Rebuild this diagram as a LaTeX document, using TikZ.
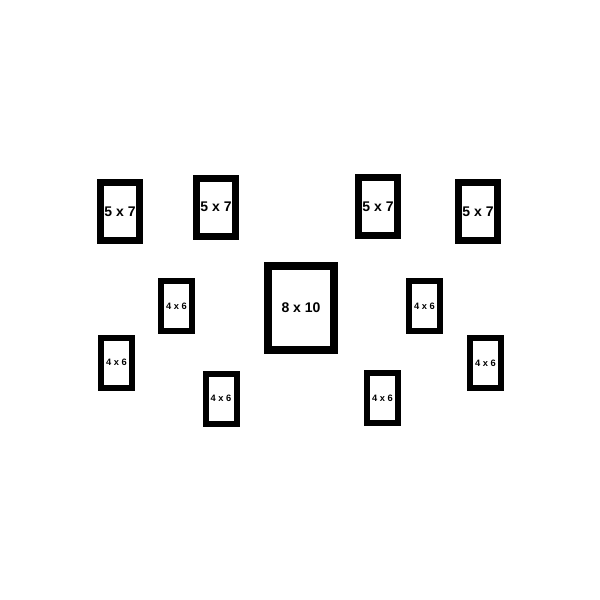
\documentclass[tikz,border=0pt]{standalone}
\usepackage{fontspec}
\setmainfont{Liberation Sans}
\begin{document}
\begin{tikzpicture}[x=1pt,y=-1pt,
  frame/.style={draw=black,line width=7pt,inner sep=0pt,minimum width=39pt,minimum height=58pt,font=\fontsize{14}{14}\selectfont\bfseries},
  smallframe/.style={frame,line width=6pt,minimum width=31pt,minimum height=50pt,font=\fontsize{9.3}{9.3}\selectfont\bfseries},
  bigframe/.style={frame,line width=8pt,minimum width=66pt,minimum height=84pt}]
\useasboundingbox[fill=white] (0,0) rectangle (600,600);
\node[frame] (f1) at (120,211.5) {5 x 7};
\node[frame] (f2) at (216,207) {5 x 7};
\node[frame] (f3) at (378,206.5) {5 x 7};
\node[frame] (f4) at (478,211.5) {5 x 7};
\node[bigframe] (big) at (301,308) {8 x 10};
\node[smallframe] (a) at (176.5,306) {4 x 6};
\node[smallframe] (b) at (116.5,362.5) {4 x 6};
\node[smallframe] (c) at (221,398.5) {4 x 6};
\node[smallframe] (d) at (424.5,306) {4 x 6};
\node[smallframe] (e) at (485.5,363) {4 x 6};
\node[smallframe] (f) at (382.5,398) {4 x 6};
\end{tikzpicture}
\end{document}
